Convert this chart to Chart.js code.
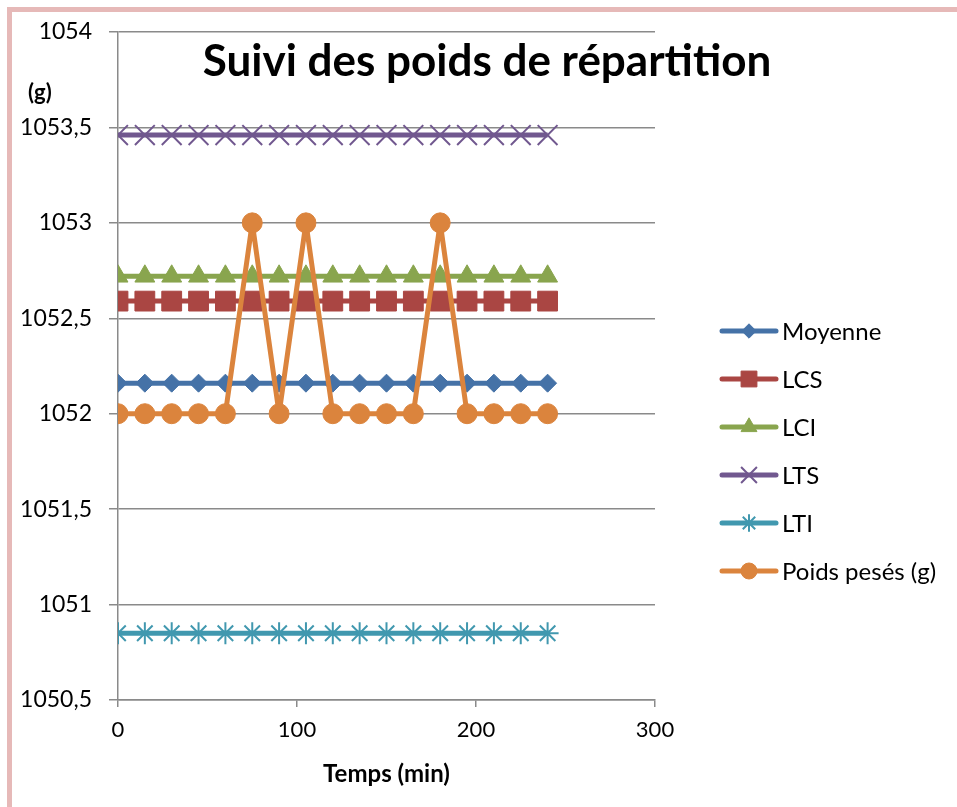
<!DOCTYPE html>
<html>
<head>
<meta charset="utf-8">
<script src="https://cdn.jsdelivr.net/npm/chart.js@4/dist/chart.umd.min.js"></script>
<style>
  html, body { margin: 0; padding: 0; background: #fff; }
  #frame {
    position: absolute; left: 7px; top: 7px; width: 960px; height: 820px;
    border: 5px solid #e6b9b8; box-sizing: border-box;
  }
  #wrap { position: absolute; left: 0; top: 0; width: 957px; height: 807px; }
</style>
</head>
<body>
<div id="frame"></div>
<div id="wrap"><canvas id="chart" width="957" height="807"></canvas></div>
<script>
// Données
const temps = [0, 15, 30, 45, 60, 75, 90, 105, 120, 135, 150, 165, 180, 195, 210, 225, 240];
const moyenne = [1052.16, 1052.16, 1052.16, 1052.16, 1052.16, 1052.16, 1052.16, 1052.16, 1052.16, 1052.16, 1052.16, 1052.16, 1052.16, 1052.16, 1052.16, 1052.16, 1052.16];
const lcs = [1052.59, 1052.59, 1052.59, 1052.59, 1052.59, 1052.59, 1052.59, 1052.59, 1052.59, 1052.59, 1052.59, 1052.59, 1052.59, 1052.59, 1052.59, 1052.59, 1052.59];
const lci = [1052.72, 1052.72, 1052.72, 1052.72, 1052.72, 1052.72, 1052.72, 1052.72, 1052.72, 1052.72, 1052.72, 1052.72, 1052.72, 1052.72, 1052.72, 1052.72, 1052.72];
const lts = [1053.46, 1053.46, 1053.46, 1053.46, 1053.46, 1053.46, 1053.46, 1053.46, 1053.46, 1053.46, 1053.46, 1053.46, 1053.46, 1053.46, 1053.46, 1053.46, 1053.46];
const lti = [1050.85, 1050.85, 1050.85, 1050.85, 1050.85, 1050.85, 1050.85, 1050.85, 1050.85, 1050.85, 1050.85, 1050.85, 1050.85, 1050.85, 1050.85, 1050.85, 1050.85];
const poids = [1052, 1052, 1052, 1052, 1052, 1053, 1052, 1053, 1052, 1052, 1052, 1052, 1053, 1052, 1052, 1052, 1052];
const xTicks = [0, 100, 200, 300];
const yTicks = [1050.5, 1051, 1051.5, 1052, 1052.5, 1053, 1053.5, 1054];

const titre = 'Suivi des poids de répartition';
const titreX = 'Temps (min)';
const titreY = '(g)';

const FONT = 'Lato, "Open Sans", sans-serif';
const GRIS = '#8a8a8a';

const pts = (arr) => temps.map((t, i) => ({ x: t, y: arr[i] }));

// style de chaque série
const series = [
  { label: 'Moyenne', data: moyenne, color: '#4572A7', style: 'rectRot', r: 9, bw: 1 },
  { label: 'LCS', data: lcs, color: '#AA4643', style: 'rect', r: 14, bw: 1 },
  { label: 'LCI', data: lci, color: '#89A54E', style: 'triangle', r: 11.5, bw: 1 },
  { label: 'LTS', data: lts, color: '#71588F', style: 'crossRot', r: 14, bw: 2 },
  { label: 'LTI', data: lti, color: '#4198AF', style: 'star', r: 11, bw: 2 },
  { label: 'Poids pesés (g)', data: poids, color: '#DB843D', style: 'circle', r: 10, bw: 1 }
];

const datasets = series.map((s, i) => ({
  label: s.label,
  data: pts(s.data),
  borderColor: s.color,
  backgroundColor: s.color,
  borderWidth: 5,
  borderJoinStyle: 'round',
  pointStyle: s.style,
  pointRadius: s.r,
  pointBorderWidth: s.bw,
  pointBorderColor: s.color,
  pointBackgroundColor: s.color,
  tension: 0,
  order: series.length - i
}));

// Titre, "(g)" et légende dessinés à la main
const decor = {
  id: 'decor',
  afterDraw(chart) {
    const ctx = chart.ctx;
    ctx.save();
    ctx.fillStyle = '#000';
    ctx.textBaseline = 'middle';

    ctx.font = 'bold 44px ' + FONT;
    ctx.textAlign = 'center';
    ctx.fillText(titre, 487, 62);

    ctx.font = 'bold 22px ' + FONT;
    ctx.textAlign = 'left';
    ctx.fillText(titreY, 28, 93);

    const x0 = 722, x1 = 776, yStart = 331, step = 48;
    series.forEach((s, i) => {
      const y = yStart + i * step;
      ctx.strokeStyle = s.color;
      ctx.lineWidth = 5;
      ctx.lineCap = 'round';
      ctx.beginPath();
      ctx.moveTo(x0, y);
      ctx.lineTo(x1, y);
      ctx.stroke();
      ctx.lineCap = 'butt';
      ctx.fillStyle = s.color;
      ctx.strokeStyle = s.color;
      ctx.lineWidth = s.bw;
      Chart.helpers.drawPoint(ctx, {
        pointStyle: s.style, radius: s.r * 0.8, rotation: 0, borderWidth: s.bw
      }, (x0 + x1) / 2, y);
    });

    ctx.fillStyle = '#000';
    ctx.font = '24px ' + FONT;
    ctx.textAlign = 'left';
    series.forEach((s, i) => {
      ctx.fillText(s.label, 782, yStart + i * step + 1);
    });
    ctx.restore();
  }
};

new Chart(document.getElementById('chart'), {
  type: 'line',
  data: { datasets },
  options: {
    responsive: false,
    animation: false,
    layout: { padding: { left: 0, right: 302, top: 32, bottom: 0 } },
    plugins: {
      legend: { display: false },
      title: { display: false },
      tooltip: { enabled: false }
    },
    scales: {
      x: {
        type: 'linear',
        min: 0,
        max: 300,
        afterBuildTicks(scale) { scale.ticks = xTicks.map(v => ({ value: v })); },
        afterFit(scale) { scale.height = 107; },
        ticks: {
          color: '#000',
          font: { family: FONT, size: 22 },
          padding: 10
        },
        grid: {
          drawOnChartArea: false,
          drawTicks: true,
          tickLength: 7,
          color: GRIS,
          lineWidth: 1.5
        },
        border: { display: true, color: GRIS, width: 1.5 },
        title: {
          display: true,
          text: titreX,
          color: '#000',
          font: { family: FONT, size: 24, weight: 'bold' },
          padding: { top: 4, bottom: 18 }
        }
      },
      y: {
        type: 'linear',
        min: 1050.5,
        max: 1054,
        afterBuildTicks(scale) { scale.ticks = yTicks.map(v => ({ value: v })); },
        afterFit(scale) { scale.width = 118; },
        ticks: {
          color: '#000',
          font: { family: FONT, size: 23 },
          padding: 17,
          callback: (v) => String(v).replace('.', ',')
        },
        grid: {
          drawTicks: true,
          tickLength: 9,
          color: GRIS,
          lineWidth: 1.5
        },
        border: { display: true, color: GRIS, width: 1.5 }
      }
    }
  },
  plugins: [decor]
});
</script>
</body>
</html>
